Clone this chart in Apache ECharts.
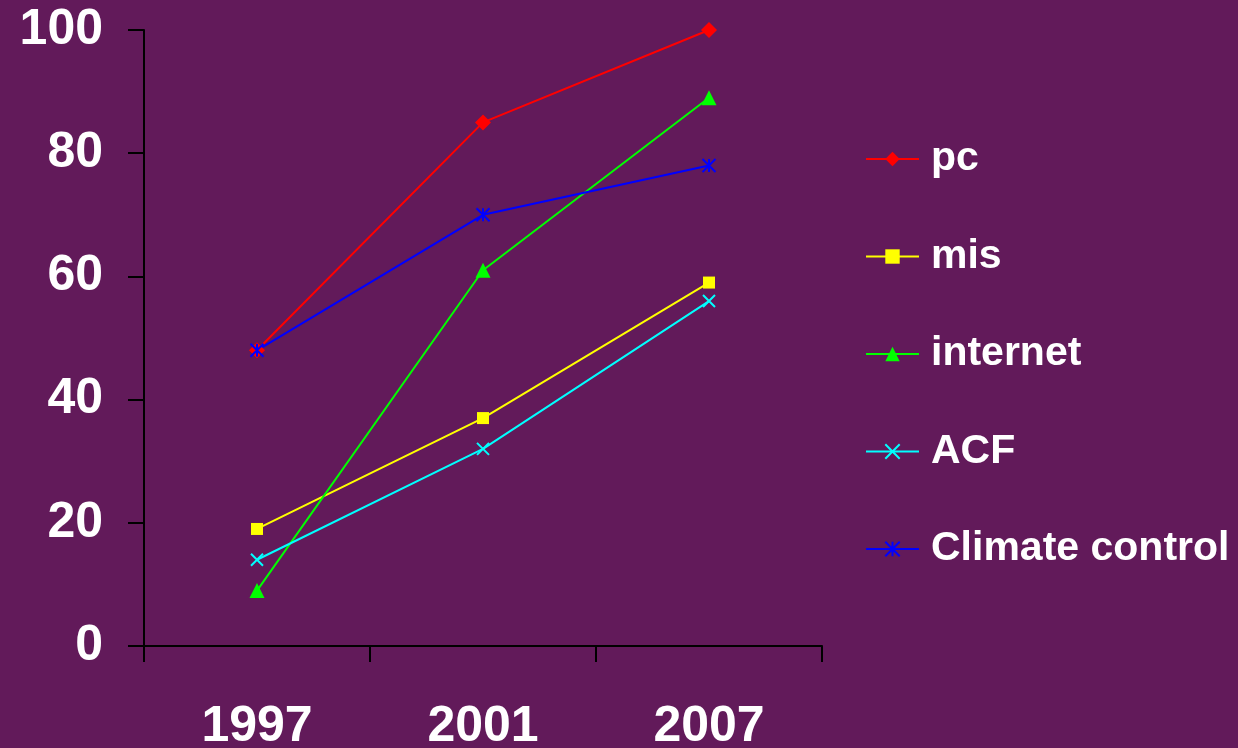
<!DOCTYPE html>
<html>
<head>
<meta charset="utf-8">
<script src="https://cdn.jsdelivr.net/npm/echarts@6/dist/echarts.min.js"></script>
<style>
html,body{margin:0;padding:0;background:#621a5a;}
#chart{width:1238px;height:748px;}
</style>
</head>
<body>
<div id="chart"></div>
<script>
const categories = ['1997', '2001', '2007'];
const pc = [48, 85, 100];
const mis = [19, 37, 59];
const internet = [9, 61, 89];
const acf = [14, 32, 56];
const climateControl = [48, 70, 78];
const yTicks = [0, 20, 40, 60, 80, 100];

const crossPath = 'path://M0,0 L10,10 M10,0 L0,10';
const starPath = 'path://M0,0 L10,10 M10,0 L0,10 M5,0 L5,10';

function mk(name, data, color, symbol, size, stroke) {
  return {
    name: name,
    type: 'line',
    data: data,
    symbol: symbol,
    symbolSize: size,
    lineStyle: { color: color, width: 2 },
    itemStyle: stroke ? { color: 'none', borderColor: color, borderWidth: 2 } : { color: color },
    emphasis: { disabled: true }
  };
}

const chart = echarts.init(document.getElementById('chart'));
chart.setOption({
  backgroundColor: '#621a5a',
  animation: false,
  grid: { left: 144, right: 416, top: 30, bottom: 102, containLabel: false, outerBoundsMode: 'none' },
  legend: {
    orient: 'vertical',
    left: 865,
    top: 136,
    padding: 0,
    itemWidth: 53,
    itemHeight: 18,
    itemGap: 51.5,
    textStyle: {
      color: '#ffffff',
      fontFamily: '"Liberation Sans", Arial, sans-serif',
      fontWeight: 'bold',
      fontSize: 41,
      lineHeight: 46,
      padding: [0, 0, 0, 7]
    },
    data: ['pc', 'mis', 'internet', 'ACF', 'Climate control']
  },
  xAxis: {
    type: 'category',
    data: categories,
    boundaryGap: true,
    axisLine: { lineStyle: { color: '#000000', width: 2 } },
    axisTick: { show: true, length: 16, lineStyle: { color: '#000000', width: 2 } },
    axisLabel: {
      color: '#ffffff',
      fontFamily: '"Liberation Sans", Arial, sans-serif',
      fontWeight: 'bold',
      fontSize: 50,
      margin: 56
    },
    splitLine: { show: false }
  },
  yAxis: {
    type: 'value',
    min: yTicks[0],
    max: yTicks[yTicks.length - 1],
    interval: 20,
    axisLine: { show: true, lineStyle: { color: '#000000', width: 2 } },
    axisTick: { show: true, length: 16, lineStyle: { color: '#000000', width: 2 } },
    axisLabel: {
      color: '#ffffff',
      fontFamily: '"Liberation Sans", Arial, sans-serif',
      fontWeight: 'bold',
      fontSize: 50,
      margin: 41
    },
    splitLine: { show: false }
  },
  series: [
    mk('pc', pc, '#ff0000', 'diamond', 16, false),
    mk('mis', mis, '#ffff00', 'rect', 12, false),
    mk('internet', internet, '#00ff00', 'triangle', 15, false),
    mk('ACF', acf, '#00ffff', crossPath, 12, true),
    mk('Climate control', climateControl, '#0000ff', starPath, 13, true)
  ]
});
</script>
</body>
</html>
